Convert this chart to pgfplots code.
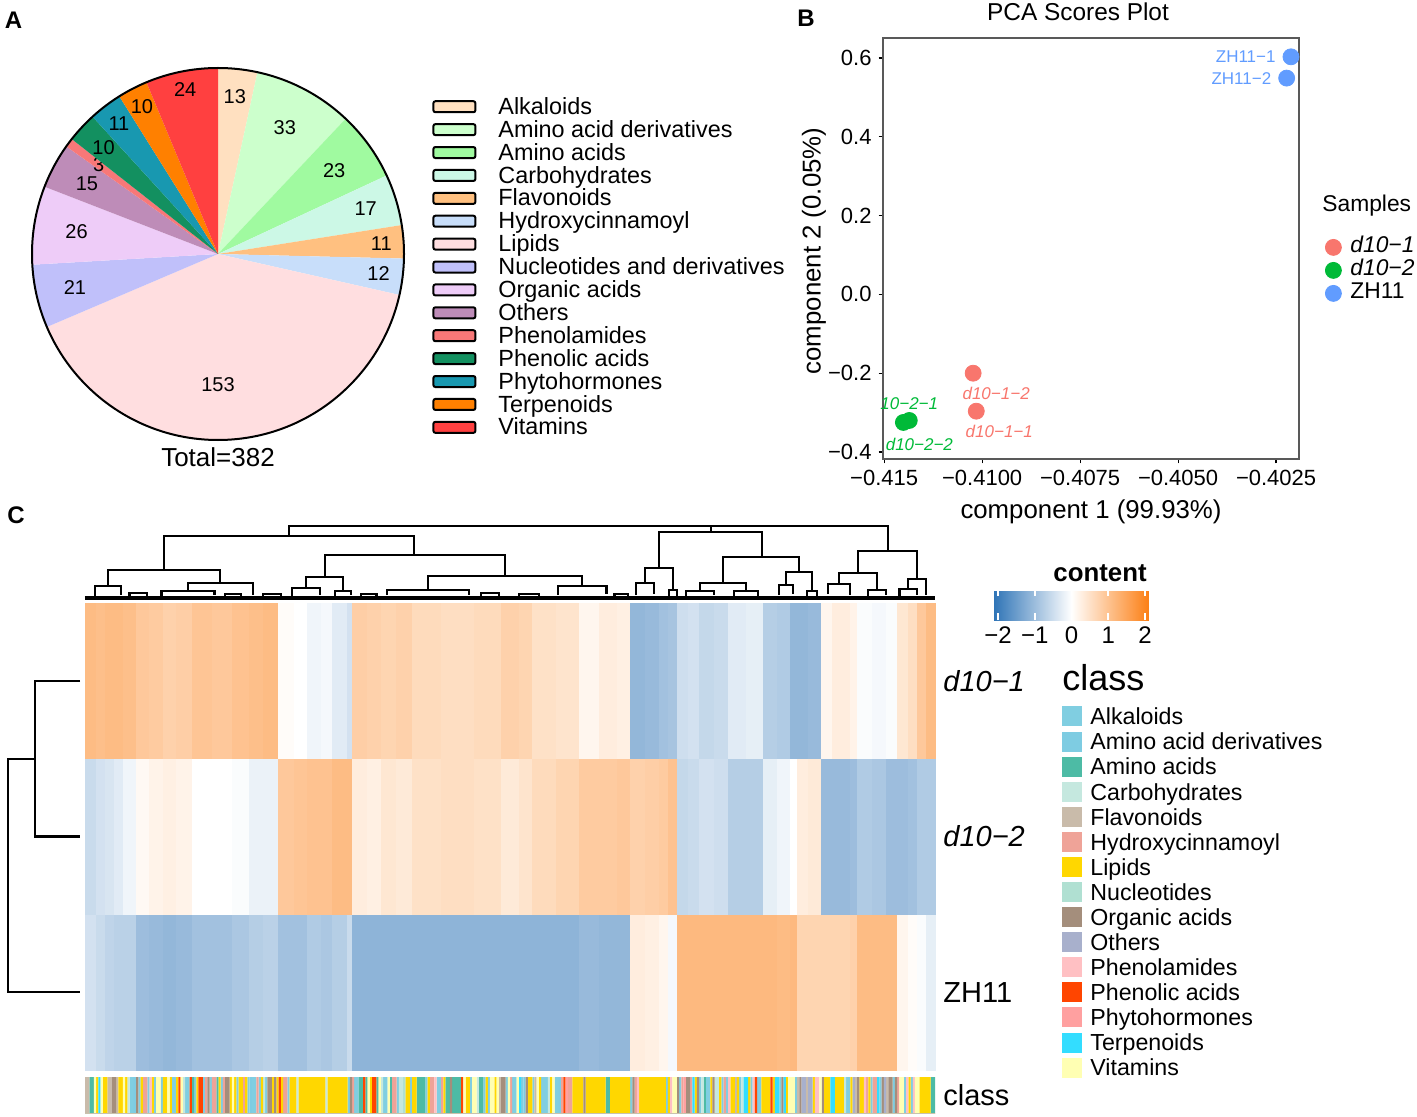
\documentclass[border=0pt]{standalone}
\usepackage{pgfplots}
\usepackage{pgfplotstable}
\pgfplotsset{compat=1.18}
\usepackage{fontspec}
\setmainfont{Liberation Sans}
\setsansfont{Liberation Sans}

% panel A: pie colours
\definecolor{pie0}{RGB}{255,224,192}
\definecolor{pie1}{RGB}{204,255,204}
\definecolor{pie2}{RGB}{160,250,160}
\definecolor{pie3}{RGB}{204,248,230}
\definecolor{pie4}{RGB}{255,192,128}
\definecolor{pie5}{RGB}{200,222,250}
\definecolor{pie6}{RGB}{255,222,224}
\definecolor{pie7}{RGB}{192,192,250}
\definecolor{pie8}{RGB}{238,204,248}
\definecolor{pie9}{RGB}{190,140,184}
\definecolor{pie10}{RGB}{248,120,120}
\definecolor{pie11}{RGB}{19,144,96}
\definecolor{pie12}{RGB}{24,152,176}
\definecolor{pie13}{RGB}{255,128,0}
\definecolor{pie14}{RGB}{255,64,64}
% panel B
\definecolor{pcared}{RGB}{248,118,109}
\definecolor{pcagreen}{RGB}{0,186,56}
\definecolor{pcablue}{RGB}{97,156,255}
% panel C: class colours
\definecolor{cls0}{RGB}{128,206,225}
\definecolor{cls1}{RGB}{126,204,226}
\definecolor{cls2}{RGB}{77,187,165}
\definecolor{cls3}{RGB}{197,232,223}
\definecolor{cls4}{RGB}{201,187,170}
\definecolor{cls5}{RGB}{239,163,152}
\definecolor{cls6}{RGB}{255,215,0}
\definecolor{cls7}{RGB}{176,224,210}
\definecolor{cls8}{RGB}{164,142,124}
\definecolor{cls9}{RGB}{168,176,204}
\definecolor{cls10}{RGB}{255,192,195}
\definecolor{cls11}{RGB}{255,69,0}
\definecolor{cls12}{RGB}{255,160,160}
\definecolor{cls13}{RGB}{51,221,255}
\definecolor{cls14}{RGB}{255,255,179}

% metabolite counts per class, label radius (fraction of pie radius), label angle offset
\pgfplotstableread{
n   lab   off
13  0.85  0
33  0.77  0
23  0.77  0
17  0.83  0
11  0.88  0
12  0.87  0
153 0.70  -5.2
21  0.79  0
26  0.77  0
15  0.80  0
3   0.80  0
10  0.84  0
11  0.88  0
10  0.89  0
24  0.90  0
}\piedata

% class annotation of the heatmap columns: start index, class id
\pgfplotstableread[row sep=\\]{
s c\\
0 4\\ 2 2\\ 4 14\\ 5 6\\ 6 13\\ 7 14\\ 8 6\\ 10 4\\ 12 8\\ 14 4\\
15 6\\ 17 14\\ 18 6\\ 19 3\\ 20 0\\ 22 1\\ 23 8\\ 24 0\\ 25 6\\ 26 5\\
28 0\\ 29 10\\ 30 6\\ 31 0\\ 32 14\\ 34 0\\ 35 6\\ 37 14\\ 38 6\\ 39 0\\
41 6\\ 42 11\\ 43 14\\ 44 3\\ 45 0\\ 47 11\\ 48 2\\ 49 0\\ 50 6\\ 51 11\\
53 0\\ 54 5\\ 55 8\\ 56 0\\ 57 5\\ 59 2\\ 60 6\\ 61 0\\ 62 5\\ 63 8\\
65 6\\ 66 14\\ 67 6\\ 68 0\\ 69 6\\ 71 5\\ 72 6\\ 73 0\\ 74 1\\ 75 0\\
77 5\\ 78 0\\ 79 6\\ 80 3\\ 81 0\\ 82 8\\ 84 6\\ 85 8\\ 86 6\\ 87 11\\
88 6\\ 89 5\\ 91 0\\ 92 6\\ 95 3\\ 96 6\\ 108 3\\ 109 6\\ 118 0\\ 119 8\\
120 5\\ 121 0\\ 123 2\\ 125 11\\ 126 2\\ 127 14\\ 128 6\\ 129 11\\ 131 2\\ 132 14\\
133 3\\ 134 0\\ 136 14\\ 137 2\\ 138 5\\ 140 0\\ 141 3\\ 143 7\\ 144 6\\ 146 0\\
147 6\\ 149 2\\ 153 0\\ 154 6\\ 155 5\\ 157 10\\ 158 0\\ 160 5\\ 161 6\\ 162 2\\
164 8\\ 165 2\\ 169 11\\ 170 14\\ 171 6\\ 173 0\\ 174 14\\ 176 3\\ 177 2\\ 179 0\\
180 6\\ 181 0\\ 182 14\\ 184 6\\ 185 14\\ 186 4\\ 187 8\\ 189 0\\ 190 14\\ 191 5\\
192 0\\ 194 14\\ 195 13\\ 196 0\\ 197 1\\ 198 8\\ 199 6\\ 201 0\\ 202 4\\ 203 14\\
204 6\\ 205 0\\ 208 3\\ 209 6\\ 210 14\\ 211 0\\ 213 1\\ 214 5\\ 215 11\\ 216 12\\
217 5\\ 219 6\\ 224 8\\ 225 6\\ 234 2\\ 236 6\\ 245 0\\ 246 8\\ 247 5\\ 248 10\\
249 6\\ 261 0\\ 262 6\\ 263 10\\ 264 14\\ 266 8\\ 267 0\\ 268 5\\ 269 12\\ 270 8\\
272 5\\ 273 13\\ 274 6\\ 275 8\\ 276 0\\ 277 3\\ 278 2\\ 279 0\\ 281 6\\ 282 8\\
283 3\\ 285 6\\ 286 0\\ 287 5\\ 288 0\\ 289 10\\ 290 6\\ 292 4\\ 293 6\\ 294 0\\
295 3\\ 296 13\\ 298 6\\ 299 0\\ 300 10\\ 301 11\\ 302 0\\ 304 6\\ 308 11\\ 309 6\\
310 13\\ 312 0\\ 313 8\\ 314 13\\ 315 6\\ 316 14\\ 319 0\\ 320 4\\ 321 8\\ 322 9\\
324 4\\ 325 9\\ 327 6\\ 328 10\\ 330 14\\ 331 8\\ 332 6\\ 335 13\\ 337 6\\ 341 3\\
342 0\\ 344 6\\ 345 9\\ 346 4\\ 347 8\\ 348 6\\ 350 10\\ 351 5\\ 352 6\\ 353 0\\
354 5\\ 356 13\\ 357 0\\ 358 8\\ 359 9\\ 360 4\\ 361 8\\ 363 0\\ 364 8\\ 365 5\\
366 14\\ 368 0\\ 369 10\\ 370 6\\ 371 0\\ 372 10\\ 373 14\\ 375 6\\ 380 2\\ 382 -1\\
}\classruns

\begin{document}
\begin{tikzpicture}
\path[use as bounding box] (0,0) rectangle (708.5pt,-558.5pt);

%------------------------------------------------ A: pie
\begin{axis}[
    at={(109pt,-127pt)}, anchor=center,
    width=204.6pt, height=204.6pt, scale only axis,
    xmin=-1.1, xmax=1.1, ymin=-1.1, ymax=1.1,
    hide axis, clip=false,
    legend cell align=left,
    legend image code/.code={\draw[#1, draw=black, line width=1pt, rounded corners=1pt] (0pt,-1.8pt) rectangle (21pt,3.7pt); \path[draw=none, fill=none] (0pt,0pt) -- (32.5pt,0pt);},
    legend style={at={(1.0230,0.8842)}, anchor=north west, draw=none, fill=none, inner sep=0pt, row sep=0pt,
        font=\fontsize{11.7}{12}\selectfont, nodes={inner sep=0pt, text height=8.6pt, text depth=2.85pt}},
]
\pgfplotsextra{
  \gdef\tot{0}
  \foreach \i in {0,...,14}{%
    \pgfplotstablegetelem{\i}{n}\of\piedata
    \pgfmathtruncatemacro\t{\tot+\pgfplotsretval}\xdef\tot{\t}}
  \gdef\acc{0}
  \foreach \i in {0,...,14}{%
    \pgfplotstablegetelem{\i}{n}\of\piedata
    \pgfmathtruncatemacro\n{\pgfplotsretval}
    \pgfplotstablegetelem{\i}{lab}\of\piedata
    \let\lr\pgfplotsretval
    \pgfplotstablegetelem{\i}{off}\of\piedata
    \let\lo\pgfplotsretval
    \pgfmathsetmacro\sa{90-\acc/\tot*360}
    \pgfmathsetmacro\ea{90-(\acc+\n)/\tot*360}
    \pgfmathsetmacro\ma{(\sa+\ea)/2+\lo}
    \fill[pie\i] (axis cs:0,0) -- (axis cs:{cos(\sa)},{sin(\sa)}) arc[start angle=\sa, end angle=\ea, radius=93pt] -- cycle;
    \node[font=\fontsize{10}{12}\selectfont] at (axis cs:{\lr*cos(\ma)},{\lr*sin(\ma)}) {\n};
    \pgfmathtruncatemacro\t{\acc+\n}\xdef\acc{\t}}
  \draw[line width=1pt] (axis cs:0,0) circle[radius=93pt];
  \node[anchor=base, inner sep=0pt, font=\fontsize{13}{15}\selectfont] at (axis cs:0,-1.1435) {Total=\tot};
}
\addlegendimage{fill=pie0}\addlegendentry{Alkaloids}
\addlegendimage{fill=pie1}\addlegendentry{Amino acid derivatives}
\addlegendimage{fill=pie2}\addlegendentry{Amino acids}
\addlegendimage{fill=pie3}\addlegendentry{Carbohydrates}
\addlegendimage{fill=pie4}\addlegendentry{Flavonoids}
\addlegendimage{fill=pie5}\addlegendentry{Hydroxycinnamoyl}
\addlegendimage{fill=pie6}\addlegendentry{Lipids}
\addlegendimage{fill=pie7}\addlegendentry{Nucleotides and derivatives}
\addlegendimage{fill=pie8}\addlegendentry{Organic acids}
\addlegendimage{fill=pie9}\addlegendentry{Others}
\addlegendimage{fill=pie10}\addlegendentry{Phenolamides}
\addlegendimage{fill=pie11}\addlegendentry{Phenolic acids}
\addlegendimage{fill=pie12}\addlegendentry{Phytohormones}
\addlegendimage{fill=pie13}\addlegendentry{Terpenoids}
\addlegendimage{fill=pie14}\addlegendentry{Vitamins}
\end{axis}

%------------------------------------------------ B: PCA scores
\begin{axis}[
    at={(441.5pt,-229.5pt)}, anchor=south west,
    width=208pt, height=210.5pt, scale only axis,
    xmin=-0.41253, xmax=-0.401915, ymin=-0.4178, ymax=0.6508,
    axis line style={black!65, line width=0.6pt},
    tickpos=left, tick align=outside, major tick length=2.2pt,
    tick style={black, line width=0.6pt},
    xtick={-0.4125,-0.41,-0.4075,-0.405,-0.4025},
    xticklabels={−0.415,−0.4100,−0.4075,−0.4050,−0.4025},
    ytick={-0.4,-0.2,0,0.2,0.4,0.6},
    yticklabels={−0.4,−0.2,0.0,0.2,0.4,0.6},
    scaled ticks=false,
    ticklabel style={font=\fontsize{11}{13}\selectfont},
    xlabel={component 1 (99.93\%)}, ylabel={component 2 (0.05\%)},
    label style={font=\fontsize{12.9}{15}\selectfont},
    xlabel style={at={(axis description cs:0.5,-0.126)}, anchor=center},
    ylabel style={at={(axis description cs:-0.1659,0.494)}, anchor=center},
    legend cell align=left,
    legend image code/.code={\draw[#1] plot coordinates {(0pt,0pt)}; \path[draw=none, fill=none] (-4pt,0pt) -- (8.5pt,0pt);},
    legend style={at={(1.0625,0.5309)}, anchor=north west, draw=none, fill=none, inner sep=0pt, row sep=0pt,
        font=\fontsize{11.4}{13}\selectfont, nodes={inner sep=0pt, text height=8.3pt, text depth=3.2pt}},
    every node near coord/.append style={inner sep=0pt, font=\fontsize{8.5}{10}\selectfont},
]
\addplot[only marks, mark=*, mark size=4pt, pcared, point meta=explicit symbolic, nodes near coords,
    every node near coord/.append style={anchor=north, yshift=-6.8pt, xshift=11.5pt, text=pcared, font=\itshape\fontsize{8.5}{10}\selectfont}]
    coordinates {(-0.41023,-0.2) [d10−1−2] (-0.41015,-0.2964) [d10−1−1]};
\addlegendentry{\textit{d10−1}}
\addplot[only marks, mark=*, mark size=4pt, pcagreen, point meta=explicit symbolic, nodes near coords,
    every node near coord/.append style={anchor=south, yshift=5pt, text=pcagreen, font=\itshape\fontsize{8.5}{10}\selectfont}]
    coordinates {(-0.41186,-0.320) [10−2−1]};
\addlegendentry{\textit{d10−2}}
\addplot[forget plot, only marks, mark=*, mark size=4pt, pcagreen, point meta=explicit symbolic, nodes near coords,
    every node near coord/.append style={anchor=north, yshift=-7.5pt, xshift=8pt, text=pcagreen, font=\itshape\fontsize{8.5}{10}\selectfont}]
    coordinates {(-0.41201,-0.325) [d10−2−2]};
\addplot[only marks, mark=*, mark size=4pt, pcablue, point meta=explicit symbolic, nodes near coords,
    every node near coord/.append style={anchor=east, xshift=-7.5pt, text=pcablue}]
    coordinates {(-0.40212,0.603) [ZH11−1] (-0.40223,0.549) [ZH11−2]};
\addlegendentry{ZH11}
\end{axis}

%------------------------------------------------ C: heatmap (z-scored content)
\begin{axis}[
    at={(42.5pt,-535pt)}, anchor=south west,
    width=425pt, height=233.5pt, scale only axis,
    xmin=0, xmax=382, ymin=0, ymax=3,
    hide axis, clip=false,
    colormap={bwo}{rgb255(0cm)=(45,115,182); rgb255(2.136cm)=(255,255,255); rgb255(4.245cm)=(252,127,20)},
    point meta min=-2.136, point meta max=2.109,
    colorbar horizontal,
    colorbar style={
        at={(parent axis.north west)}, anchor=north west, xshift=454pt, yshift=15.5pt,
        width=78pt, height=15.5pt, scale only axis,
        xtick={-2,-1,0,1,2}, xticklabels={−2,−1,0,1,2},
        xtick pos=both, xticklabel pos=lower, tick align=inside,
        major tick length=3.5pt, xtick style={white, line width=0.8pt},
        axis line style={draw=none},
        xticklabel style={font=\fontsize{12}{14}\selectfont, text=black},
    },
]
% columns: start index; rows y=0 ZH11, y=1 d10-2, y=2 d10-1, y=3 top edge
\addplot[surf, shader=flat corner, faceted color=mapped color, line width=0.3pt,
    mesh/ordering=y varies, mesh/rows=4, point meta=explicit]
    table[row sep=\\, meta=v] {
x y v\\
0 0 -0.45\\ 0 1 -0.55\\ 0 2 1.10\\ 0 3 1.10\\
5 0 -0.55\\ 5 1 -0.45\\ 5 2 1.05\\ 5 3 1.05\\
9 0 -0.65\\ 9 1 -0.40\\ 9 2 1.10\\ 9 3 1.10\\
13 0 -0.70\\ 13 1 -0.30\\ 13 2 1.10\\ 13 3 1.10\\
17 0 -0.70\\ 17 1 -0.15\\ 17 2 1.05\\ 17 3 1.05\\
23 0 -1.00\\ 23 1 0.10\\ 23 2 0.90\\ 23 3 0.90\\
29 0 -1.05\\ 29 1 0.20\\ 29 2 0.85\\ 29 3 0.85\\
35 0 -1.10\\ 35 1 0.25\\ 35 2 0.75\\ 35 3 0.75\\
41 0 -1.05\\ 41 1 0.20\\ 41 2 0.80\\ 41 3 0.80\\
48 0 -0.95\\ 48 1 0.00\\ 48 2 0.95\\ 48 3 0.95\\
57 0 -0.95\\ 57 1 0.00\\ 57 2 0.90\\ 57 3 0.90\\
66 0 -0.85\\ 66 1 -0.05\\ 66 2 1.00\\ 66 3 1.00\\
74 0 -0.75\\ 74 1 -0.20\\ 74 2 1.05\\ 74 3 1.05\\
80 0 -0.70\\ 80 1 -0.20\\ 80 2 1.10\\ 80 3 1.10\\
87 0 -0.95\\ 87 1 0.90\\ 87 2 0.05\\ 87 3 0.05\\
94 0 -0.95\\ 94 1 0.95\\ 94 2 0.00\\ 94 3 0.00\\
100 0 -0.80\\ 100 1 1.00\\ 100 2 -0.15\\ 100 3 -0.15\\
106 0 -0.85\\ 106 1 1.00\\ 106 2 -0.10\\ 106 3 -0.10\\
111 0 -0.75\\ 111 1 1.10\\ 111 2 -0.30\\ 111 3 -0.30\\
118 0 -0.55\\ 118 1 1.10\\ 118 2 -0.45\\ 118 3 -0.45\\
120 0 -1.15\\ 120 1 0.30\\ 120 2 0.80\\ 120 3 0.80\\
127 0 -1.15\\ 127 1 0.25\\ 127 2 0.75\\ 127 3 0.75\\
133 0 -1.15\\ 133 1 0.40\\ 133 2 0.70\\ 133 3 0.70\\
140 0 -1.15\\ 140 1 0.35\\ 140 2 0.75\\ 140 3 0.75\\
147 0 -1.15\\ 147 1 0.50\\ 147 2 0.60\\ 147 3 0.60\\
160 0 -1.15\\ 160 1 0.55\\ 160 2 0.55\\ 160 3 0.55\\
175 0 -1.15\\ 175 1 0.50\\ 175 2 0.60\\ 175 3 0.60\\
187 0 -1.15\\ 187 1 0.35\\ 187 2 0.75\\ 187 3 0.75\\
195 0 -1.15\\ 195 1 0.45\\ 195 2 0.70\\ 195 3 0.70\\
201 0 -1.15\\ 201 1 0.60\\ 201 2 0.50\\ 201 3 0.50\\
212 0 -1.15\\ 212 1 0.70\\ 212 2 0.45\\ 212 3 0.45\\
222 0 -1.05\\ 222 1 0.85\\ 222 2 0.15\\ 222 3 0.15\\
231 0 -1.10\\ 231 1 0.85\\ 231 2 0.30\\ 231 3 0.30\\
239 0 -1.10\\ 239 1 0.90\\ 239 2 0.25\\ 239 3 0.25\\
245 0 0.30\\ 245 1 0.75\\ 245 2 -1.10\\ 245 3 -1.10\\
252 0 0.25\\ 252 1 0.80\\ 252 2 -1.05\\ 252 3 -1.05\\
258 0 0.15\\ 258 1 0.85\\ 258 2 -0.95\\ 258 3 -0.95\\
262 0 -0.10\\ 262 1 1.00\\ 262 2 -0.90\\ 262 3 -0.90\\
266 0 1.15\\ 266 1 -0.60\\ 266 2 -0.50\\ 266 3 -0.50\\
271 0 1.15\\ 271 1 -0.55\\ 271 2 -0.45\\ 271 3 -0.45\\
276 0 1.15\\ 276 1 -0.45\\ 276 2 -0.60\\ 276 3 -0.60\\
283 0 1.15\\ 283 1 -0.50\\ 283 2 -0.55\\ 283 3 -0.55\\
289 0 1.15\\ 289 1 -0.75\\ 289 2 -0.30\\ 289 3 -0.30\\
297 0 1.15\\ 297 1 -0.75\\ 297 2 -0.25\\ 297 3 -0.25\\
305 0 1.15\\ 305 1 -0.25\\ 305 2 -0.75\\ 305 3 -0.75\\
311 0 1.10\\ 311 1 -0.15\\ 311 2 -0.80\\ 311 3 -0.80\\
317 0 1.15\\ 317 1 0.00\\ 317 2 -1.10\\ 317 3 -1.10\\
320 0 0.70\\ 320 1 0.30\\ 320 2 -1.10\\ 320 3 -1.10\\
325 0 0.70\\ 325 1 0.35\\ 325 2 -1.05\\ 325 3 -1.05\\
331 0 0.70\\ 331 1 -1.05\\ 331 2 0.15\\ 331 3 0.15\\
336 0 0.70\\ 336 1 -1.05\\ 336 2 0.30\\ 336 3 0.30\\
344 0 0.75\\ 344 1 -1.00\\ 344 2 0.20\\ 344 3 0.20\\
347 0 1.10\\ 347 1 -0.80\\ 347 2 -0.05\\ 347 3 -0.05\\
354 0 1.10\\ 354 1 -0.85\\ 354 2 -0.10\\ 354 3 -0.10\\
360 0 1.10\\ 360 1 -1.00\\ 360 2 -0.05\\ 360 3 -0.05\\
365 0 0.15\\ 365 1 -1.00\\ 365 2 0.40\\ 365 3 0.40\\
370 0 0.05\\ 370 1 -0.95\\ 370 2 0.55\\ 370 3 0.55\\
374 0 -0.05\\ 374 1 -0.80\\ 374 2 0.90\\ 374 3 0.90\\
378 0 -0.25\\ 378 1 -0.80\\ 378 2 1.10\\ 378 3 1.10\\
382 0 -0.25\\ 382 1 -0.80\\ 382 2 1.10\\ 382 3 1.10\\
};
\node[anchor=west, inner sep=0pt, xshift=4pt, font=\itshape\fontsize{14.5}{16}\selectfont] at (axis cs:382,2.5) {d10−1};
\node[anchor=west, inner sep=0pt, xshift=4pt, font=\itshape\fontsize{14.5}{16}\selectfont] at (axis cs:382,1.5) {d10−2};
\node[anchor=west, inner sep=0pt, xshift=4pt, font=\fontsize{14.5}{16}\selectfont] at (axis cs:382,0.5) {ZH11};
\end{axis}

% sample dendrogram (left)
\begin{axis}[
    at={(0pt,-535pt)}, anchor=south west,
    width=42.5pt, height=233.5pt, scale only axis,
    xmin=0, xmax=85, x dir=reverse, ymin=0, ymax=3,
    hide axis, clip=false,
]
\addplot[black, line width=1.1pt, unbounded coords=jump] table[row sep=\\] {
h y\\
5 2.5\\ 50 2.5\\ 50 1.5\\ 5 1.5\\ nan nan\\
50 2\\ 77 2\\ 77 0.5\\ 5 0.5\\
};
\end{axis}

% metabolite dendrogram (top)
\begin{axis}[
    at={(42.5pt,-300pt)}, anchor=south west,
    width=425pt, height=40pt, scale only axis,
    xmin=0, xmax=382, ymin=0, ymax=80,
    hide axis, clip=false,
]
\addplot[black, line width=2pt] coordinates {(0,2.4) (382,2.4)};
\addplot[black, line width=1.1pt, unbounded coords=jump] table[row sep=\\] {
x h\\
91.7 64\\ 91.7 74\\ 360.9 74\\ 360.9 49\\ nan nan\\
281.3 74\\ 281.3 68\\ nan nan\\
35.5 30\\ 35.5 64\\ 147.9 64\\ 147.9 45\\ nan nan\\
10.3 14\\ 10.3 30\\ 60.7 30\\ 60.7 17\\ nan nan\\
4.5 4\\ 4.5 14\\ 16.2 14\\ 16.2 5\\ nan nan\\
46.3 9\\ 46.3 17\\ 75.5 17\\ 75.5 5\\ nan nan\\
34.4 4\\ 34.4 9\\ 58.2 9\\ 58.2 5\\ nan nan\\
107.9 23\\ 107.9 45\\ 188.8 45\\ 188.8 24\\ nan nan\\
99.3 12\\ 99.3 23\\ 115.9 23\\ 115.9 9\\ nan nan\\
93 4\\ 93 12\\ 105.6 12\\ 105.6 5\\ nan nan\\
112.4 4\\ 112.4 9\\ 119.4 9\\ 119.4 5\\ nan nan\\
154.1 10\\ 154.1 24\\ 223.4 24\\ 223.4 14\\ nan nan\\
135.7 5\\ 135.7 10\\ 172.5 10\\ 172.5 5\\ nan nan\\
212.4 5\\ 212.4 14\\ 234.4 14\\ 234.4 6\\ nan nan\\
258 32\\ 258 68\\ 304.3 68\\ 304.3 43\\ nan nan\\
251.7 17\\ 251.7 32\\ 264.3 32\\ 264.3 10\\ nan nan\\
247.6 5\\ 247.6 17\\ 255.8 17\\ 255.8 6\\ nan nan\\
262.6 4\\ 262.6 10\\ 266 10\\ 266 4\\ nan nan\\
286.7 17\\ 286.7 43\\ 320.9 43\\ 320.9 28\\ nan nan\\
276.4 9\\ 276.4 17\\ 297 17\\ 297 9\\ nan nan\\
270 4\\ 270 9\\ 282.8 9\\ 282.8 5\\ nan nan\\
291.5 4\\ 291.5 9\\ 302.5 9\\ 302.5 4\\ nan nan\\
315 15\\ 315 28\\ 326.8 28\\ 326.8 9\\ nan nan\\
311.9 5\\ 311.9 15\\ 318.1 15\\ 318.1 6\\ nan nan\\
324.5 4\\ 324.5 9\\ 329.1 9\\ 329.1 4\\ nan nan\\
347.4 27\\ 347.4 49\\ 373.9 49\\ 373.9 21\\ nan nan\\
338.9 16\\ 338.9 27\\ 355.9 27\\ 355.9 10\\ nan nan\\
333.9 6\\ 333.9 16\\ 343.9 16\\ 343.9 5\\ nan nan\\
351.9 4\\ 351.9 10\\ 359.9 10\\ 359.9 5\\ nan nan\\
370 11\\ 370 21\\ 377.8 21\\ 377.8 5\\ nan nan\\
366 4\\ 366 11\\ 374 11\\ 374 5\\ nan nan\\
20 4\\ 20 7\\ 28 7\\ 28 4\\ nan nan\\
63 4\\ 63 6\\ 70 6\\ 70 4\\ nan nan\\
80 4\\ 80 6\\ 88 6\\ 88 4\\ nan nan\\
124 4\\ 124 6\\ 131 6\\ 131 4\\ nan nan\\
178 4\\ 178 7\\ 186 7\\ 186 4\\ nan nan\\
195 4\\ 195 6\\ 204 6\\ 204 4\\ nan nan\\
238 4\\ 238 6\\ 244 6\\ 244 4\\
};
\end{axis}

% class annotation bar
\begin{axis}[
    at={(42.5pt,-556.5pt)}, anchor=south west,
    width=425pt, height=18pt, scale only axis,
    xmin=0, xmax=382, ymin=0, ymax=1,
    hide axis, clip=false,
    legend cell align=left,
    legend image code/.code={\fill[#1] (0pt,-5pt) rectangle (10pt,5pt); \path[draw=none, fill=none] (0pt,0pt) -- (14pt,0pt);},
    legend style={at={(1.1494,11.375)}, anchor=north west, draw=none, fill=none, inner sep=0pt, row sep=0pt,
        font=\fontsize{11.6}{13}\selectfont, nodes={inner sep=0pt, text height=10.42pt, text depth=2.12pt}},
    legend entries={Alkaloids,Amino acid derivatives,Amino acids,Carbohydrates,Flavonoids,Hydroxycinnamoyl,Lipids,Nucleotides,Organic acids,Others,Phenolamides,Phenolic acids,Phytohormones,Terpenoids,Vitamins},
]
\pgfplotsinvokeforeach{0,...,14}{
  \addplot[const plot, fill=cls#1, draw=none] table[x=s, y expr={\thisrow{c}==#1}] {\classruns} \closedcycle;
}
\node[anchor=west, inner sep=0pt, xshift=4pt, font=\fontsize{14.5}{16}\selectfont] at (axis cs:382,0.5) {class};
\end{axis}

%------------------------------------------------ titles and panel letters
\node[font=\bfseries\fontsize{12}{14}\selectfont] at (6.75pt,-10.25pt) {A};
\node[font=\bfseries\fontsize{12}{14}\selectfont] at (403pt,-9pt) {B};
\node[font=\bfseries\fontsize{12}{14}\selectfont] at (8pt,-257.5pt) {C};
\node[anchor=base, inner sep=0pt, font=\fontsize{12.2}{14}\selectfont] at (539pt,-10.5pt) {PCA Scores Plot};
\node[anchor=base west, inner sep=0pt, font=\fontsize{11.4}{13}\selectfont] at (661pt,-105.8pt) {Samples};
\node[anchor=base east, inner sep=0pt, font=\bfseries\fontsize{12.9}{15}\selectfont] at (573.5pt,-290.5pt) {content};
\node[anchor=base west, inner sep=0pt, font=\fontsize{18}{20}\selectfont] at (531pt,-345pt) {class};
\end{tikzpicture}
\end{document}
